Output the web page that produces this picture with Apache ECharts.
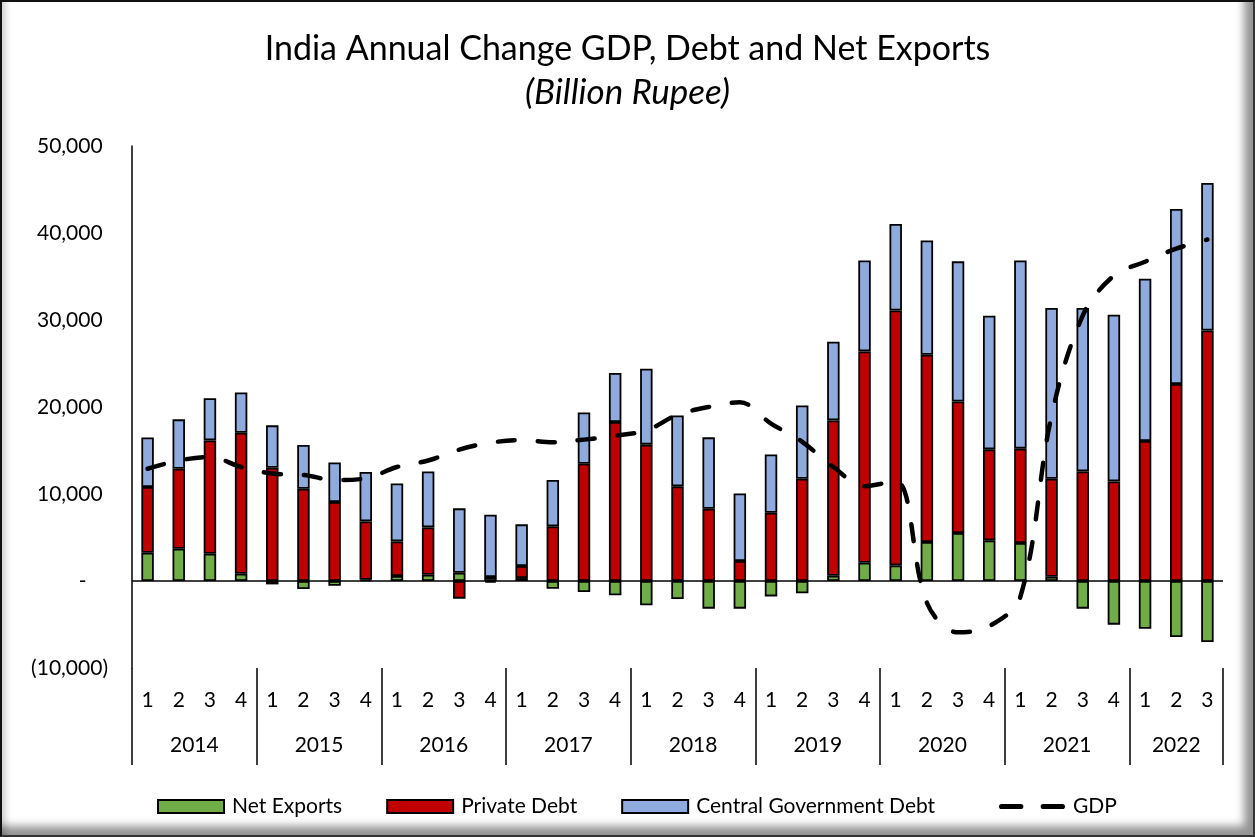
<!DOCTYPE html>
<html>
<head>
<meta charset="utf-8">
<title>India Annual Change GDP, Debt and Net Exports</title>
<script src="https://cdn.jsdelivr.net/npm/echarts@6/dist/echarts.min.js"></script>
<style>
  html, body { margin: 0; padding: 0; background: #ffffff; }
  #frame {
    position: absolute; left: 0; top: 0; width: 1255px; height: 837px;
    box-sizing: border-box; background: #ffffff;
    border-top: 2px solid #111; border-left: 2px solid #111;
    border-right: 2px solid #333; border-bottom: 2px solid #333;
    box-shadow: inset -14px -14px 9px -5px rgba(0,0,0,0.42), inset 9px 0 6px -5px rgba(0,0,0,0.18);
  }
  #chart { position: absolute; left: 0; top: 0; width: 1255px; height: 837px; }
</style>
</head>
<body>
<div id="frame"></div>
<div id="chart"></div>
<script>
// Tick labels
const years = ['2014', '2015', '2016', '2017', '2018', '2019', '2020', '2021', '2022'];
const quartersPerYear = [4, 4, 4, 4, 4, 4, 4, 4, 3];

// Annual change, billion rupee, by quarter (2014 Q1 .. 2022 Q3)
const netExports = [
  3250, 3710, 3140, 840,
  -390, -920, -540, 150,
  575, 720, 950, 450,
  340, -890, -1270, -1650,
  -2800, -2070, -3180, -3180,
  -1770, -1420, 610, 2100,
  1800, 4480, 5520, 4670,
  4370, 490, -3180, -5020,
  -5480, -6440, -7010
];
const privateDebt = [
  7550, 9190, 13020, 16200,
  13020, 10610, 9080, 6700,
  3975, 5440, -2030, -200,
  1380, 6280, 13480, 18280,
  15670, 10880, 8310, 2300,
  7850, 11760, 17850, 24290,
  29300, 21530, 15120, 10460,
  10840, 11270, 12600, 11450,
  16090, 22640, 28800
];
const centralGovDebt = [
  5700, 5680, 4840, 4640,
  4870, 5020, 4550, 5680,
  6670, 6440, 7400, 7170,
  4790, 5330, 5900, 5620,
  8730, 8150, 8200, 7770,
  6700, 8420, 9040, 10460,
  9930, 13140, 16100, 15360,
  21640, 19620, 18780, 19160,
  18660, 20120, 16950
];
const gdp = [
  12900, 13850, 14250, 13100,
  12350, 12200, 11600, 11800,
  13100, 13850, 15100, 15900,
  16200, 15950, 16250, 16700,
  17300, 19100, 20000, 20550,
  18100, 16000, 13100, 10900,
  11500, -2500, -5900, -5200,
  -1800, 19000, 30500, 35100,
  36700, 38200, 39250
];

// Category list built from the year / quarter tick labels
const categories = [];
const yearCenters = {};
const yearStartIdx = {};
years.forEach((y, yi) => {
  const start = categories.length;
  yearStartIdx[start] = true;
  for (let q = 1; q <= quartersPerYear[yi]; q++) categories.push(y + ' Q' + q);
  yearCenters[(start + categories.length) / 2] = y;
});

const FONT = 'Lato, "Open Sans", sans-serif';
const LABEL_SIZE = 21;

// Two rounded dashes used as the legend key of the dashed GDP line
const DASH_ICON = 'path://M2.5,0 H21.5 A2.5,2.5 0 0 1 21.5,5 H2.5 A2.5,2.5 0 0 1 2.5,0 Z ' +
  'M43.5,0 H62.5 A2.5,2.5 0 0 1 62.5,5 H43.5 A2.5,2.5 0 0 1 43.5,0 Z';

function fmtThousands(v) {
  return Math.abs(v).toString().replace(/\B(?=(\d{3})+(?!\d))/g, ',');
}

const chart = echarts.init(document.getElementById('chart'), null, { renderer: 'canvas' });

const barBorder = { borderColor: '#000000', borderWidth: 1.8 };
const legendText = { fontFamily: FONT, fontSize: LABEL_SIZE, color: '#000', padding: [0, 0, 0, 3] };

chart.setOption({
  backgroundColor: 'transparent',
  animation: false,
  textStyle: { fontFamily: FONT, color: '#000' },
  title: {
    text: 'India Annual Change GDP, Debt and Net Exports',
    subtext: '(Billion Rupee)',
    left: 'center',
    top: 27,
    itemGap: 9,
    textStyle: { fontFamily: FONT, fontSize: 34, fontWeight: 'normal', color: '#000' },
    subtextStyle: { fontFamily: FONT, fontSize: 35, fontStyle: 'italic', color: '#000' }
  },
  legend: [
    {
      left: 152,
      top: 791,
      itemWidth: 66,
      itemHeight: 13,
      itemGap: 44,
      textStyle: legendText,
      data: [
        { name: 'Net Exports', icon: 'rect' },
        { name: 'Private Debt', icon: 'rect' },
        { name: 'Central Government Debt', icon: 'rect' }
      ]
    },
    {
      left: 994,
      top: 791,
      itemWidth: 66,
      itemHeight: 13,
      textStyle: legendText,
      data: [
        { name: 'GDP', icon: DASH_ICON, itemStyle: { color: '#000', borderWidth: 0 } }
      ]
    }
  ],
  grid: { left: 132, right: 32, top: 146, bottom: 169, containLabel: false },
  xAxis: [
    {
      type: 'category',
      data: categories,
      position: 'bottom',
      boundaryGap: true,
      axisLine: { show: false, onZero: false },
      axisTick: {
        show: true,
        length: 97,
        interval: (idx) => !!yearStartIdx[idx],
        lineStyle: { color: '#000', width: 1.5 }
      },
      axisLabel: {
        interval: 0,
        margin: 22,
        fontSize: LABEL_SIZE,
        fontFamily: FONT,
        color: '#000',
        formatter: (v) => v.split(' Q')[1]
      },
      splitLine: { show: false }
    },
    {
      type: 'value',
      min: 0,
      max: categories.length,
      interval: 0.5,
      position: 'bottom',
      axisLine: { show: false, onZero: false },
      axisTick: { show: false },
      splitLine: { show: false },
      axisLabel: {
        margin: 67,
        fontSize: LABEL_SIZE,
        fontFamily: FONT,
        color: '#000',
        showMinLabel: true,
        showMaxLabel: true,
        formatter: (v) => yearCenters[v] || ''
      }
    }
  ],
  yAxis: {
    type: 'value',
    min: -10000,
    max: 50000,
    interval: 10000,
    axisLine: { show: true, onZero: false, lineStyle: { color: '#000', width: 1.5 } },
    axisTick: { show: false },
    splitLine: { show: false },
    axisLabel: {
      margin: 24,
      fontSize: LABEL_SIZE,
      fontFamily: FONT,
      color: '#000',
      formatter: (v) => {
        if (v === 0) return '-    ';
        if (v < 0) return '(' + fmtThousands(v) + ')';
        return fmtThousands(v) + ' ';
      }
    }
  },
  series: [
    {
      name: 'Net Exports',
      type: 'bar',
      stack: 'total',
      barWidth: '40%',
      data: netExports,
      itemStyle: Object.assign({ color: '#70AD47' }, barBorder),
      markLine: {
        silent: true,
        symbol: 'none',
        label: { show: false },
        lineStyle: { color: '#000', width: 1.5, type: 'solid' },
        data: [{ yAxis: 0 }]
      }
    },
    {
      name: 'Private Debt',
      type: 'bar',
      stack: 'total',
      barWidth: '40%',
      data: privateDebt,
      itemStyle: Object.assign({ color: '#C00000' }, barBorder)
    },
    {
      name: 'Central Government Debt',
      type: 'bar',
      stack: 'total',
      barWidth: '40%',
      data: centralGovDebt,
      itemStyle: Object.assign({ color: '#8FAADC' }, barBorder)
    },
    {
      name: 'GDP',
      type: 'line',
      data: gdp,
      smooth: 0.35,
      symbol: 'none',
      z: 5,
      lineStyle: { color: '#000', width: 4.5, type: [17, 23], cap: 'round' },
      itemStyle: { color: '#000' }
    }
  ]
});
</script>
</body>
</html>
